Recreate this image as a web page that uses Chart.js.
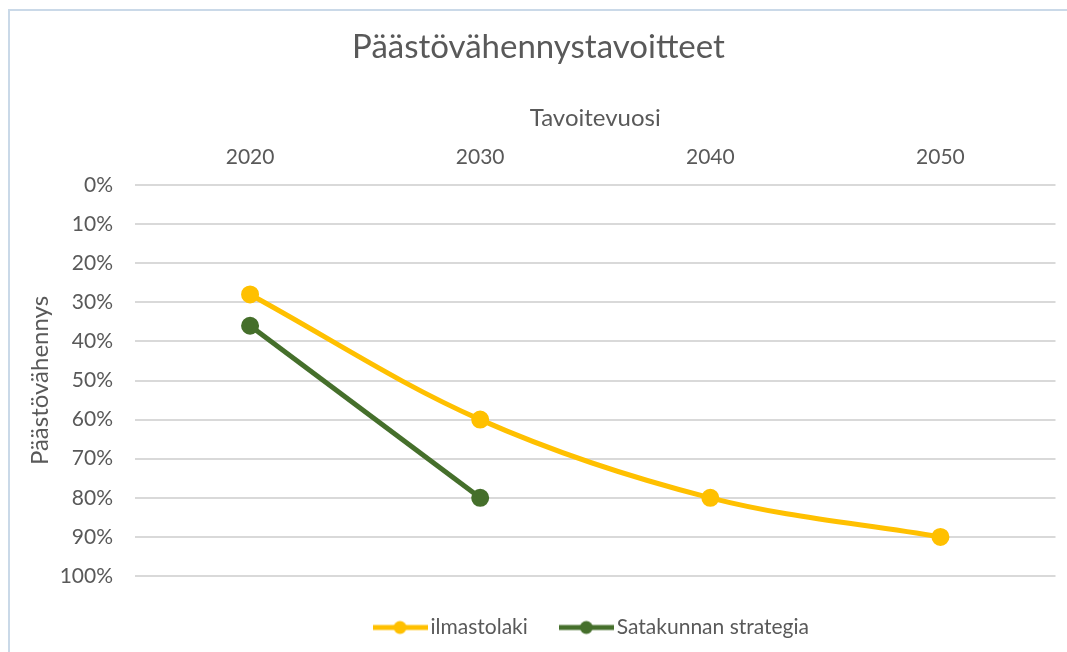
<!DOCTYPE html>
<html>
<head>
<meta charset="utf-8">
<script src="https://cdn.jsdelivr.net/npm/chart.js@4"></script>
<style>
  html, body { margin: 0; padding: 0; background: #fff; overflow: hidden; }
  #frame { position: absolute; left: 8px; top: 9px; width: 1100px; height: 700px;
           border: 2px solid #cad9e8; background: #fff; }
  #wrap { position: absolute; left: 0; top: 0; width: 1067px; height: 652px; }
</style>
</head>
<body>
<div id="frame"></div>
<div id="wrap"><canvas id="chart" width="1067" height="652"></canvas></div>
<script>
// ── Data ────────────────────────────────────────────────────────────
const vuodet      = ['2020', '2030', '2040', '2050'];
const ilmastolaki = [28, 60, 80, 90];
const satakunta   = [36, 80, null, null];
const yMin = 0, yMax = 100, yStep = 10;

// ── Styles ──────────────────────────────────────────────────────────
const TEXT   = '#595959';
const GRID   = '#d9d9d9';
const YELLOW = '#ffc000';
const GREEN  = '#456f2b';
const FONT   = 'Lato, "Open Sans", sans-serif';

// line + marker icon for the legend, like Excel
function legendIcon(color) {
  const c = document.createElement('canvas');
  c.width = 55; c.height = 16;
  const g = c.getContext('2d');
  g.strokeStyle = color; g.lineWidth = 5;
  g.beginPath(); g.moveTo(0, 8); g.lineTo(55, 8); g.stroke();
  g.fillStyle = color;
  g.beginPath(); g.arc(27.5, 8, 6.5, 0, Math.PI * 2); g.fill();
  return c;
}
const icons = [legendIcon(YELLOW), legendIcon(GREEN)];

// nudge legend and title a bit right, as in the original
const boxShift = {
  id: 'boxShift',
  afterLayout(chart) {
    chart.legend.left += 65; chart.legend.right += 65;
    chart.titleBlock.left += 9; chart.titleBlock.right += 9;
  }
};

new Chart(document.getElementById('chart'), {
  type: 'line',
  data: {
    labels: vuodet,
    datasets: [
      { label: 'ilmastolaki', data: ilmastolaki, borderColor: YELLOW, backgroundColor: YELLOW,
        borderWidth: 5, pointRadius: 6.5, pointHoverRadius: 6.5, tension: 0.35 },
      { label: 'Satakunnan strategia', data: satakunta, borderColor: GREEN, backgroundColor: GREEN,
        borderWidth: 5, pointRadius: 6.5, pointHoverRadius: 6.5, tension: 0 },
    ]
  },
  options: {
    responsive: false,
    animation: false,
    layout: { padding: { top: 0, left: 0, right: 8, bottom: 4 } },
    plugins: {
      title: { display: true, text: 'Päästövähennystavoitteet', color: TEXT,
        font: { family: FONT, size: 33, weight: 'normal', lineHeight: 1.2 },
        padding: { top: 27.2, bottom: 8.8 } },
      legend: { position: 'bottom',
        title: { display: true, text: '', font: { size: 2.5, lineHeight: 1 }, padding: 0 },
        labels: { color: TEXT, font: { family: FONT, size: 21 }, padding: 38.5,
          usePointStyle: true, pointStyleWidth: 40,
          generateLabels: (chart) => Chart.defaults.plugins.legend.labels.generateLabels(chart)
            .map((l, i) => ({ ...l, pointStyle: icons[i] })) } },
      tooltip: { enabled: false },
    },
    scales: {
      x: { position: 'top', offset: true,
        afterFit: (s) => { s.height = 109.4; },
        grid: { display: false, drawTicks: false }, border: { display: false },
        ticks: { color: TEXT, font: { family: FONT, size: 21 }, padding: 15 },
        title: { display: true, text: 'Tavoitevuosi', color: TEXT,
          font: { family: FONT, size: 24, lineHeight: 1.2 }, padding: { top: 28, bottom: 0 } } },
      y: { reverse: true, min: yMin, max: yMax,
        afterFit: (s) => { s.width = 135; },
        grid: { color: GRID, lineWidth: 2, drawTicks: false }, border: { display: false },
        ticks: { stepSize: yStep, color: TEXT, font: { family: FONT, size: 21 }, padding: 22,
          callback: (v) => v + '%' },
        title: { display: true, text: 'Päästövähennys', color: TEXT,
          font: { family: FONT, size: 24, lineHeight: 1.2 }, padding: { top: 25.6, bottom: 0 } } },
    }
  },
  plugins: [boxShift]
});
</script>
</body>
</html>
